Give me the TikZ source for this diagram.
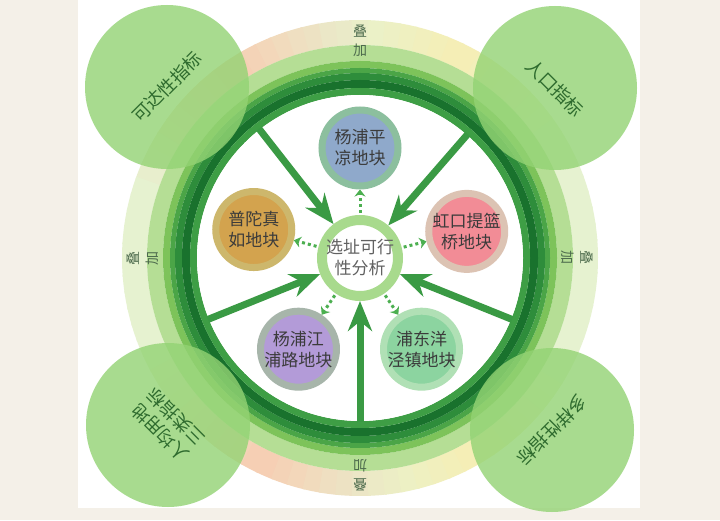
\documentclass[tikz,border=0pt]{standalone}
\usepackage{fontspec}
\setmainfont{Noto Sans CJK SC}
\usetikzlibrary{calc, positioning, arrows.meta}

\definecolor{bgbeige}{HTML}{F4F0E8}
\definecolor{palegreen}{HTML}{E6F2D0}
\definecolor{paleyel}{HTML}{F6EEB4}
\definecolor{peach}{HTML}{F7CDB2}
\definecolor{ringlight}{HTML}{B5DE95}
\definecolor{ringmid}{HTML}{7DC35A}
\definecolor{ringgreen}{HTML}{4BA547}
\definecolor{ringdark}{HTML}{2E8D3B}
\definecolor{ringdarkest}{HTML}{19722D}
\definecolor{ringinner}{HTML}{3E9E45}
\definecolor{spokegreen}{HTML}{3A9A44}
\definecolor{dashgreen}{HTML}{4CAF50}
\definecolor{cornergreen}{RGB}{147,211,116}
\definecolor{cornertxt}{HTML}{2E6B2E}
\definecolor{centring}{HTML}{A8DA8D}
\definecolor{sitegray}{HTML}{3B3B3B}
\definecolor{djgray}{HTML}{4D6B4D}

\begin{document}
\begin{tikzpicture}[x=1pt, y=1pt,
  spoke/.style={line width=7pt, draw=spokegreen, -{Stealth[length=30pt, width=24pt]}},
  dasharr/.style={line width=3pt, draw=dashgreen, dash pattern=on 3pt off 3pt, -{Stealth[length=7pt, width=11pt]}},
  site/.style={circle, minimum size=76pt, line width=7pt, inner sep=0pt},
  sitetext/.style={font=\fontsize{17}{21}\selectfont, text=sitegray, align=center},
  corner/.style={circle, minimum size=164pt, fill=cornergreen, fill opacity=0.8, inner sep=0pt},
  cornertext/.style={font=\fontsize{18}{22}\selectfont, text=cornertxt, align=center},
  dj/.style={font=\fontsize{14}{14}\selectfont, text=djgray, inner sep=0pt}]

\useasboundingbox (0,0) rectangle (720,520);
\fill[bgbeige] (0,0) rectangle (720,520);
\fill[white] (78,12) rectangle (640,520);

\coordinate (C) at (360,262);

% Outer pale band, colour changing round the ring
\foreach \a in {0,4,...,356}{
  \pgfmathtruncatemacro{\wp}{100*max(0,1-abs(\a-122)/38)+100*max(0,1-abs(\a-242)/38)}
  \pgfmathtruncatemacro{\wy}{100*max(0,1-abs(\a-62)/32)+100*max(0,1-abs(\a-298)/32)}
  \colorlet{bandA}{paleyel!\wy!palegreen}
  \colorlet{bandB}{peach!\wp!bandA}
  \draw[bandB, line width=25pt] ($(C)+(\a:225.5)$) arc[start angle=\a, end angle=\a+4.6, radius=225.5];
}

% Green ring bands
\draw[ringlight, line width=16pt] (C) circle (205);
\draw[ringmid, line width=7pt] (C) circle (193.5);
\draw[ringgreen, line width=5pt] (C) circle (187.5);
\draw[ringdark, line width=7pt] (C) circle (181.5);
\draw[ringdarkest, line width=8pt] (C) circle (174);
\draw[ringinner, line width=7pt] (C) circle (166.5);
\fill[white] (C) circle (163);

% Overlay labels on the ring
\foreach \ang in {90,180,270,0}{
  \node[dj, rotate=\ang-90] (djo\ang) at ($(C)+(\ang:227)$) {叠};
  \node[dj, rotate=\ang-90] (dji\ang) at ($(C)+(\ang:208)$) {加};
}

% Corner indicator circles
\node[corner] (acc) at (167,433) {};
\node[corner] (pop) at (555,432) {};
\node[corner] (land) at (168,95) {};
\node[corner] (div) at (552,90) {};
\node[cornertext, rotate=45] (acc-t) at (acc) {可达性指标};
\node[cornertext, rotate=-45] (pop-t) at (pop) {人口指标};
\node[cornertext, rotate=135] (land-t) at (land) {人均用地\\三类指标};
\node[cornertext, rotate=-135] (div-t) at (div) {多样性指标};

% Centre
\node[circle, minimum size=76pt, inner sep=0pt, draw=centring, line width=10pt, fill=white] (ctr) at (C) {};
\node[font=\fontsize{17}{21}\selectfont, text=black!62, align=center] (ctr-t) at (ctr) {选址可行\\性分析};

% Spokes into the centre
\foreach \i/\ang in {1/128, 2/49, 3/-22, 4/-90, 5/202}{
  \coordinate (sp\i) at ($(C)+(\ang:164)$);
  \draw[spoke] (sp\i) -- (ctr);
}

% Sites
\foreach \nm/\ang/\fc/\bc/\txt in {
  pl/90/8FA9CB/8CBF9E/{杨浦平\\凉地块},
  zr/165/D3A34E/CDB76C/{普陀真\\如地块},
  tlq/14/F28C96/DCC3B3/{虹口提篮\\桥地块},
  jpl/236/B39BD8/A7B5AA/{杨浦江\\浦路地块},
  yjz/304/8CD4A0/B0E0B5/{浦东洋\\泾镇地块}}{
  \definecolor{sitefill}{HTML}{\fc}
  \definecolor{siteborder}{HTML}{\bc}
  \node[site, fill=sitefill, draw=siteborder] (\nm) at ($(C)+(\ang:110)$) {};
  \node[sitetext] (\nm-t) at (\nm) {\txt};
  \draw[dasharr, shorten <=2pt] (ctr) -- (\nm);
}
\end{tikzpicture}
\end{document}
